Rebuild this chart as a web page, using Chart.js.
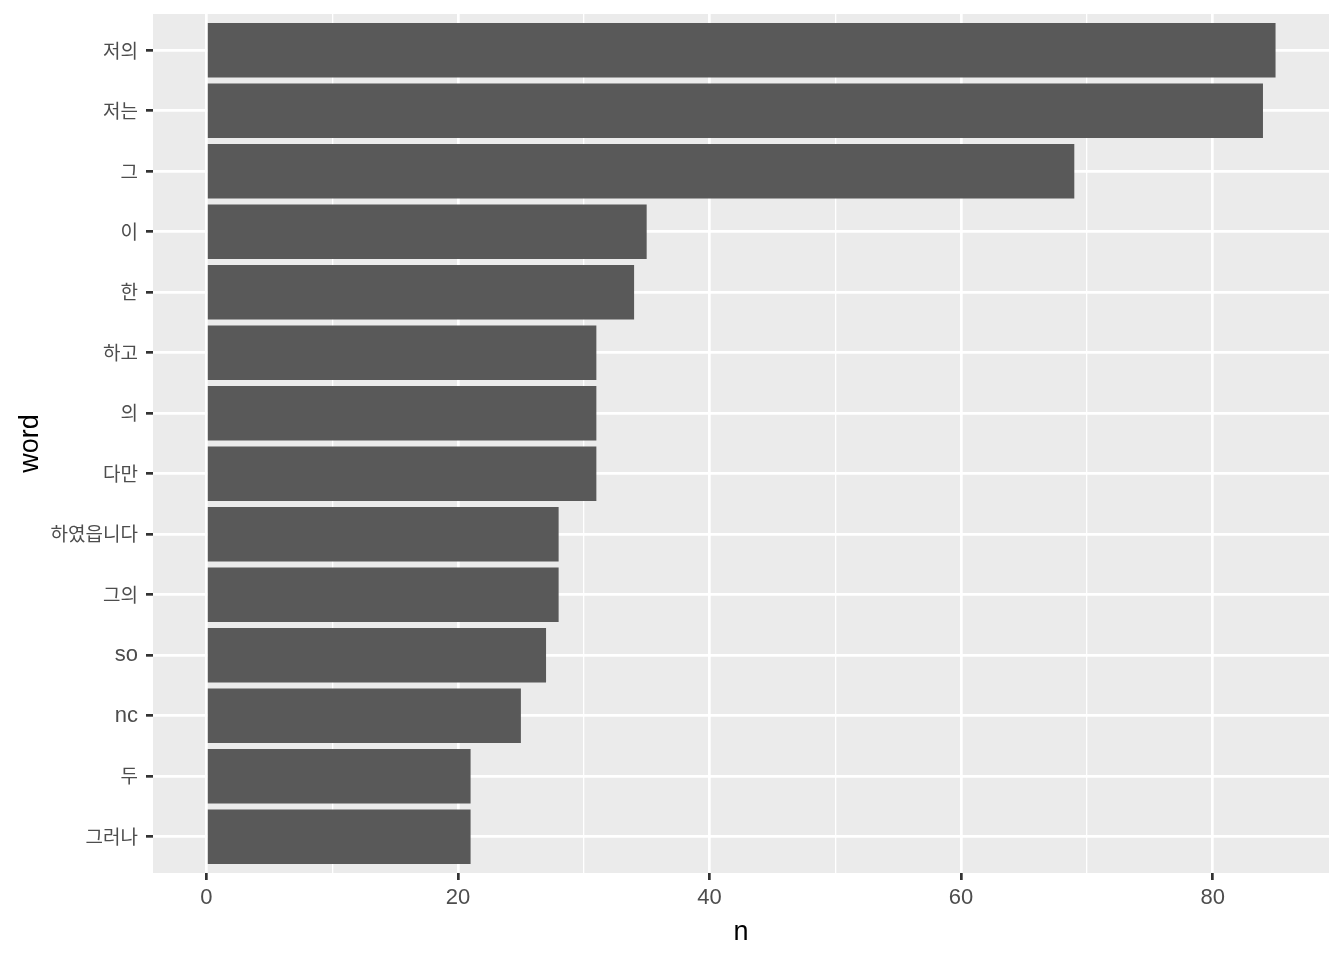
<!DOCTYPE html>
<html>
<head>
<meta charset="utf-8">
<script src="https://cdn.jsdelivr.net/npm/chart.js@4"></script>
<style>
  html, body { margin: 0; padding: 0; background: #fff; }
  #wrap { width: 1344px; height: 960px; }
</style>
</head>
<body>
<div id="wrap"><canvas id="wordChart"></canvas></div>
<script>
// mots du haut vers le bas
const words = ['저의', '저는', '그', '이', '한', '하고', '의', '다만', '하였읍니다', '그의', 'so', 'nc', '두', '그러나'];
const counts = [85, 84, 69, 35, 34, 31, 31, 31, 28, 28, 27, 25, 21, 21];
const xTicks = [0, 10, 20, 30, 40, 50, 60, 70, 80];
const xLabels = ['0', '', '20', '', '40', '', '60', '', '80'];

// fond gris du panneau
const panelBg = {
    id: 'panelBg',
    beforeDraw(chart) {
        const a = chart.chartArea;
        const ctx = chart.ctx;
        ctx.save();
        ctx.fillStyle = '#EBEBEB';
        ctx.fillRect(a.left, a.top, a.right - a.left, a.bottom - a.top);
        ctx.restore();
    }
};

const isHangul = s => /[\uAC00-\uD7A3]/.test(s);

new Chart(document.getElementById('wordChart'), {
    type: 'bar',
    data: {
        datasets: [{
            data: counts.map((v, i) => ({ x: v, y: i })),
            backgroundColor: '#595959',
            borderWidth: 0,
            barPercentage: 0.9,
            categoryPercentage: 1
        }]
    },
    options: {
        indexAxis: 'y',
        responsive: true,
        maintainAspectRatio: false,
        animation: false,
        layout: { padding: { left: 0, right: 15, top: 14, bottom: 0 } },
        plugins: {
            legend: { display: false },
            tooltip: { enabled: false }
        },
        scales: {
            x: {
                type: 'linear',
                min: -4.25,
                max: 89.25,
                afterBuildTicks: scale => { scale.ticks = xTicks.map(v => ({ value: v })); },
                afterFit: scale => {
                    scale.height = 87;
                    scale.paddingLeft = 0;
                    scale.paddingRight = 0;
                },
                border: { display: false },
                grid: {
                    color: '#FFFFFF',
                    lineWidth: ctx => (ctx.tick && ctx.tick.value % 20 === 0) ? 2.7 : 1.3,
                    tickColor: ctx => (ctx.tick && ctx.tick.value % 20 === 0) ? '#333333' : 'rgba(0,0,0,0)',
                    tickWidth: 2.7,
                    tickLength: 7
                },
                ticks: {
                    autoSkip: false,
                    maxRotation: 0,
                    padding: 5,
                    color: '#4D4D4D',
                    font: { family: 'Liberation Sans', size: 22 },
                    callback: (v, i) => xLabels[i]
                },
                title: {
                    display: true,
                    text: 'n',
                    color: '#000000',
                    font: { family: 'Liberation Sans', size: 27 },
                    padding: { top: 0, bottom: 11 }
                }
            },
            y: {
                type: 'linear',
                reverse: true,
                offset: false,
                min: -0.6,
                max: 13.6,
                afterBuildTicks: scale => { scale.ticks = words.map((w, i) => ({ value: i })); },
                afterFit: scale => {
                    scale.width = 153;
                    scale.paddingTop = 0;
                    scale.paddingBottom = 0;
                },
                border: { display: false },
                grid: {
                    offset: false,
                    color: '#FFFFFF',
                    lineWidth: 2.7,
                    tickColor: '#333333',
                    tickWidth: 2.7,
                    tickLength: 7
                },
                ticks: {
                    autoSkip: false,
                    padding: 8,
                    color: '#4D4D4D',
                    font: ctx => isHangul(words[ctx.tick ? ctx.tick.value : 0])
                        ? { family: 'Noto Sans CJK KR', size: 19 }
                        : { family: 'Liberation Sans', size: 22 },
                    callback: v => words[v]
                },
                title: {
                    display: true,
                    text: 'word',
                    color: '#000000',
                    font: { family: 'Liberation Sans', size: 27 },
                    padding: { top: 14, bottom: 0 }
                }
            }
        }
    },
    plugins: [panelBg]
});
</script>
</body>
</html>
